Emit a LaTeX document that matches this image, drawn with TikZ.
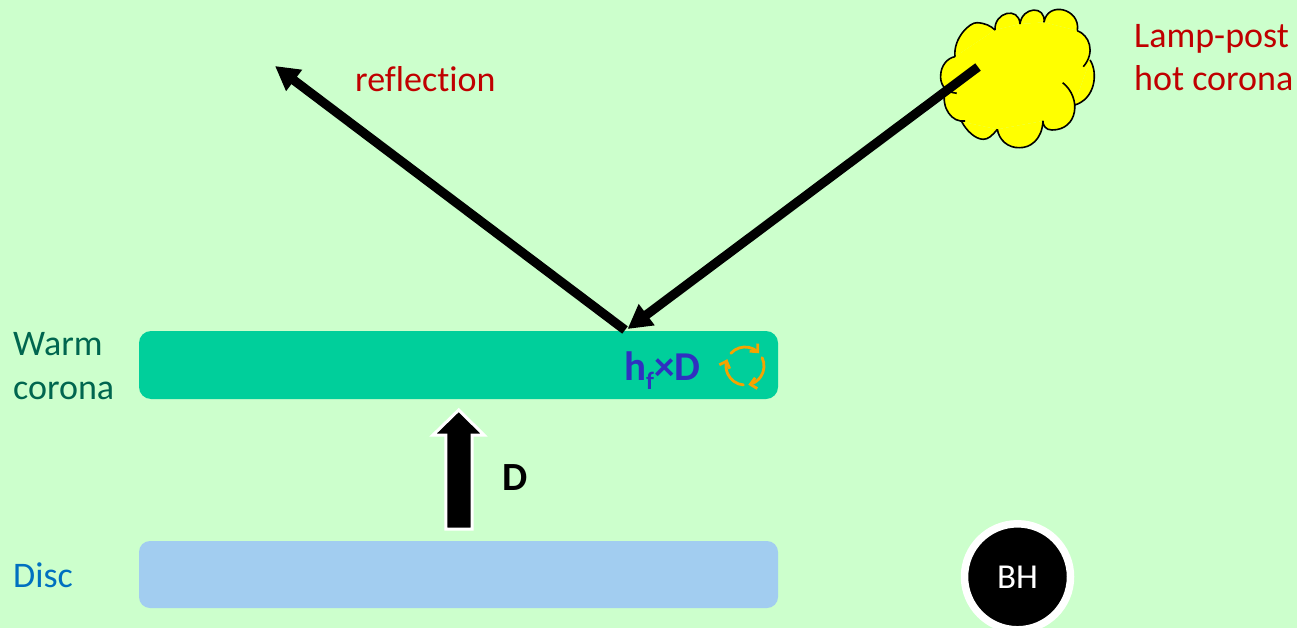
\documentclass[tikz,border=0pt]{standalone}
\usepackage{fontspec}
\setmainfont{Carlito}[RawFeature={-liga;-clig;-dlig}]
\usetikzlibrary{arrows.meta,calc,bending}
\definecolor{pagegreen}{HTML}{CCFFCC}
\definecolor{warmbar}{HTML}{00CF9B}
\definecolor{discbar}{HTML}{A2CDF0}
\definecolor{warmtext}{HTML}{00664F}
\definecolor{disctext}{HTML}{0070C0}
\definecolor{redtext}{HTML}{C00000}
\definecolor{fluxtext}{HTML}{3030C0}
\definecolor{cycle}{HTML}{F5A300}
\definecolor{coronafill}{HTML}{FFFF00}
% Outline of the hot corona, one stroke per bump so the cusps overlap
\newcommand\cloudarcs[1]{\path[#1]
  (995,30) .. controls (994,12) and (1019,6) .. (1020,24)
  (1020,24) .. controls (1022,6.5) and (1046,5) .. (1044,22.3)
  (1044,22.3) .. controls (1047.5,0.3) and (1081,8.7) .. (1077.3,30.7)
  (1077.3,30.7) .. controls (1089,35) and (1096,52) .. (1083.3,66.7)
  (1090,60) .. controls (1098,72) and (1096,99) .. (1074,105.3)
  (1062.7,82.7) .. controls (1082,98) and (1078,130) .. (1052,130) .. controls (1046,130) and (1043,126) .. (1042.7,120.7)
  (1043,121) .. controls (1042,140) and (1030,148) .. (1019.3,147.7) .. controls (1008,148) and (999,140) .. (997.3,129.3)
  (997.3,129.3) .. controls (992,136) and (988,139.3) .. (983.3,139.3) .. controls (975,139.3) and (966,130) .. (961.7,121.7)
  (965,121) .. controls (952,123) and (941,108) .. (945,91)
  (956.7,93.3) .. controls (943,92) and (940,82) .. (940.7,75) .. controls (941,66) and (947,58) .. (955,56.7)
  (955,56.7) .. controls (953,38) and (970,22) .. (977,22.7) .. controls (985,23) and (991,26) .. (995,30);}
\tikzset{
  x=1pt,y=-1pt,
  bar/.style={rounded corners=#1,draw=none},
  label/.style={anchor=base west,inner sep=0pt,font=\fontsize{36}{36}\selectfont},
  beam/.style={line width=9.2pt,draw=black},
  beamtip/.style={-{Triangle[length=24pt,width=25pt]}},
  turn/.style={draw=cycle,line width=2.8pt,line cap=round,-{Straight Barb[flex,length=6pt,width=11pt,line width=2.8pt]}}
}
\begin{document}
\begin{tikzpicture}
\useasboundingbox (0,0) rectangle (1297,628);
\fill[pagegreen] (0,0) rectangle (1297,628);

% Layers
\fill[warmbar,bar=12pt] (139,331) rectangle (778,399);
\fill[discbar,bar=11pt] (139,541) rectangle (778,608);

% Hot corona
\cloudarcs{fill=coronafill}
\fill[coronafill] (995,30) -- (1020,24) -- (1044,22.3) -- (1077.3,30.7) -- (1090,60) -- (1074,105.3) -- (1043,121) -- (997.3,129.3) -- (961.7,121.7) -- (945,91) -- (955,56.7) -- cycle;
\cloudarcs{draw=black,line width=1.6pt}

% Incident and reflected rays
\coordinate (lamp) at (978,67);
\coordinate (hit) at (625,330);
\coordinate (hitin) at (627.5,329);
\coordinate (away) at (275,66);
\draw[beam,beamtip] (lamp) -- (hitin);
\draw[beam,beamtip] (hit) -- (away);

% Dissipation arrow between the layers
\draw[white,line width=3pt,fill=black,miter limit=10]
  (445.8,529) -- (445.8,435) -- (433,435) -- (458.7,410) -- (484,435) -- (472.2,435) -- (472.2,529) -- cycle;

% Recycling mark
\coordinate (mark) at (745,366);
\draw[turn] ($(mark)+(-138:19)$) arc[start angle=-138,end angle=-42,radius=19];
\draw[turn] ($(mark)+(-26:19)$) arc[start angle=-26,end angle=80,radius=19];
\draw[turn] ($(mark)+(95:19)$) arc[start angle=95,end angle=201,radius=19];

% Black hole
\node[circle,fill=black,draw=white,line width=7.5pt,minimum size=106pt,inner sep=0pt,text=white,font=\fontsize{35}{35}\selectfont] (bh) at (1017.5,576.8) {BH};

% Labels
\node[label,text=redtext] (refl) at (355,92) {reflection};
\node[label,text=redtext] (lampa) at (1134,48) {Lamp-post};
\node[label,text=redtext] (lampb) at (1134,91) {hot corona};
\node[label,text=warmtext] (warma) at (13,355) {Warm};
\node[label,text=warmtext] (warmb) at (13,399) {corona};
\node[label,text=disctext] (disc) at (13,587) {Disc};
\node[label,font=\fontsize{40}{40}\selectfont\bfseries] (dflux) at (502,490) {D};
\node[label,text=fluxtext,font=\fontsize{41}{41}\selectfont\bfseries] (hfd) at (624,380) {h\raisebox{-9pt}{\fontsize{25}{25}\selectfont f}×D};
\end{tikzpicture}
\end{document}
